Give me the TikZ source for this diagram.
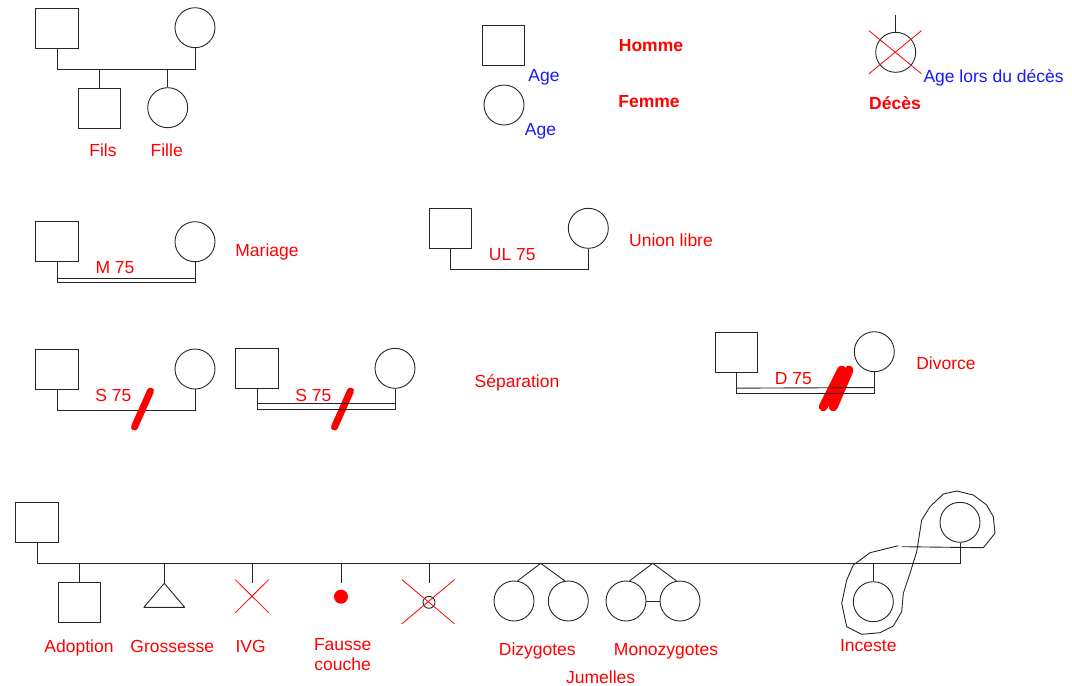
\documentclass[tikz,border=0pt]{standalone}
\usepackage{fontspec}
\setmainfont{Liberation Sans}
\usetikzlibrary{shapes.misc}
\definecolor{lc}{gray}{0.15}
\definecolor{lblue}{RGB}{25,25,250}
\begin{document}
\begin{tikzpicture}[x=1pt,y=-1pt,
 male/.style={draw=lc, rectangle, minimum width=42.5pt, minimum height=40pt, inner sep=0pt, line width=0.9pt},
 female/.style={draw=lc, circle, minimum size=40pt, inner sep=0pt, line width=0.9pt},
 conn/.style={draw=lc, line width=0.9pt},
 lab/.style={text=red, font=\fontsize{17.5}{19.7}\selectfont, inner sep=0pt},
 blab/.style={text=lblue, font=\fontsize{17.5}{19.7}\selectfont, inner sep=0pt},
 rbold/.style={text=red, font=\fontsize{17.5}{19.7}\selectfont\bfseries, inner sep=0pt},
 slash/.style={red, line width=7pt, line cap=round},
 xout/.style={cross out, draw=red, line width=0.8pt, inner sep=0pt},
]
\useasboundingbox (0,0) rectangle (1072,686);

% ---- top-left family
\node[male] (f0) at (57,28.3) {};
\node[female] (m0) at (195,27.7) {};
\draw[conn] (f0.south) -- ++(0,20.7) coordinate (j0) -| (m0.south);
\node[male] (s0) at (99.3,108) {};
\node[female] (d0) at (167.7,107.7) {};
\draw[conn] (s0.north) -- (s0.north |- j0);
\draw[conn] (d0.north) -- (d0.north |- j0);
\node[lab] (tfils) at (103,150) {Fils};
\node[lab] (tfille) at (166.7,150) {Fille};

% ---- legend
\node[male] (lm) at (503.5,45) {};
\node[blab] (lma) at (544,77.2) {Age};
\node[female] (lf) at (504,105) {};
\node[blab] (lfa) at (540.5,130.8) {Age};
\node[rbold] (th) at (651,46) {Homme};
\node[rbold] (tf) at (649,101.5) {Femme};

% ---- death
\node[female] (dc) at (895.7,52.3) {};
\coordinate (dtop) at (895.7,15);
\draw[conn] (dtop) -- (dc.north);
\node[xout, minimum width=51.7pt, minimum height=42.3pt] (dx) at (895.2,52.2) {};
\node[blab, anchor=west] (dage) at (923.3,77.5) {Age lors du décès};
\node[rbold] (tdc) at (895,103) {Décès};

% ---- marriage
\node[male] (h1) at (57,241.7) {};
\node[female] (w1) at (195,241.7) {};
\draw[conn] (h1.south) -- ++(0,20.6) -| (w1.south);
\draw[conn] ([yshift=-16pt]h1.south) -- ([yshift=-16pt]w1.south);
\node[lab] (t1) at (115,267.7) {M 75};
\node[lab] (t1b) at (267,251.8) {Mariage};

% ---- union libre
\node[male] (h2) at (450.3,228.7) {};
\node[female] (w2) at (588.3,228.3) {};
\draw[conn] (h2.south) -- ++(0,20.6) -| (w2.south);
\node[lab] (t2) at (512.3,255) {UL 75};
\node[lab] (t2b) at (671,240) {Union libre};

% ---- separation 1
\node[male] (h3) at (57,369.3) {};
\node[female] (w3) at (195,369) {};
\draw[conn] (h3.south) -- ++(0,20.7) -| (w3.south);
\draw[slash] (134.5,427) -- (150.5,391);
\node[lab] (t3) at (113.3,395.7) {S 75};

% ---- separation 2
\node[male] (h4) at (257,368.3) {};
\node[female] (w4) at (395,368.3) {};
\draw[slash] (334.5,427) -- (350.5,391);
\draw[conn] (h4.south) -- ++(0,21) -| (w4.south);
\draw[conn] ([yshift=-15pt]h4.south) -- ([yshift=-15pt]w4.south);
\node[lab] (t4) at (313.3,395.7) {S 75};
\node[lab] (t4b) at (517,382.8) {Séparation};

% ---- divorce
\node[male] (h5) at (736.2,352.3) {};
\node[female] (w5) at (874.3,351.7) {};
\draw[slash, line width=9pt] (823.3,406.7) -- (841.7,370);
\draw[slash, line width=9pt] (833.3,406.7) -- (849,370);
\draw[conn] (h5.south) -- ++(0,20.4) -| (w5.south);
\draw[conn] ([yshift=-15.4pt]h5.south) -- ([yshift=-15.4pt]w5.south);
\node[lab] (t5) at (793.3,378.3) {D 75};
\node[lab] (t5b) at (946,363.3) {Divorce};

% ---- bottom row
\node[male] (b0) at (37,522.3) {};
\node[female] (inc2) at (960,522.3) {};
\draw[conn] (b0.south) -- ++(0,21) coordinate (L) -| (inc2.south);

% adoption
\node[male] (ad) at (79.3,602.3) {};
\draw[conn] (ad.north) -- (ad.north |- L);
\node[lab] (tad) at (79,647.8) {Adoption};

% grossesse
\coordinate (gr) at (164.3,583.3);
\draw[conn] (gr |- L) -- (gr);
\draw[conn, line join=round] (gr) -- ++(-20.4,24) -- ++(40.8,0) -- cycle;
\node[lab] (tgr) at (172.3,646.7) {Grossesse};

% IVG
\node[xout, minimum width=32.6pt, minimum height=32.3pt] (ivg) at (252,596.2) {};
\draw[conn] (ivg.north |- L) -- ++(0,19);
\node[lab] (tivg) at (250.7,646.7) {IVG};

% fausse couche
\node[circle, fill=red, minimum size=14pt, inner sep=0pt] (fc) at (341,596.7) {};
\draw[conn] (fc.north |- L) -- ++(0,19);
\node[lab, align=center] (tfc) at (342.7,654.5) {Fausse\\couche};

% mort-ne
\node[circle, draw=lc, line width=0.9pt, minimum size=12pt, inner sep=0pt] (sb) at (429,602.3) {};
\node[xout, minimum width=51.7pt, minimum height=43.3pt] (sbx) at (428.2,601.7) {};
\draw[conn] (sb.north |- L) -- ++(0,19);

% twins
\coordinate (dz) at (540.7,563.3);
\node[female] (dz1) at (514,601) {};
\node[female] (dz2) at (568.3,601) {};
\draw[conn] (dz1.80) -- (dz) -- (dz2.100);
\coordinate (mz) at (652.7,563.3);
\node[female] (mz1) at (626,601) {};
\node[female] (mz2) at (680,601) {};
\draw[conn] (mz1.80) -- (mz) -- (mz2.100);
\draw[conn] (mz1.east) -- (mz2.west);
\node[lab] (tdz) at (537.3,651.2) {Dizygotes};
\node[lab] (tmz) at (666,651.2) {Monozygotes};
\node[lab] (tjm) at (600.7,677.2) {Jumelles};

% incest
\node[female] (inc1) at (873.3,601.7) {};
\draw[conn] (inc1.north) -- (inc1.north |- L);
\draw[conn, line join=round] (898.3,545.7) -- (870,552.7) -- (853.3,565) -- (846.7,580) -- (841.7,603.3) -- (846.7,626.7) -- (861.7,634.3) -- (880,632.7) -- (893.3,626) -- (901.7,611.7) -- (903.3,593.3) -- (910,573.3) -- (916.7,551.7) -- (921.7,520) -- (930,506.7) -- (943.3,494) -- (956.7,491) -- (973.3,495) -- (986.7,505) -- (993.3,516.7) -- (995,533.3) -- (983.3,547.7) -- (901.7,546.7);
\node[lab] (tinc) at (868.3,645.7) {Inceste};
\end{tikzpicture}
\end{document}
